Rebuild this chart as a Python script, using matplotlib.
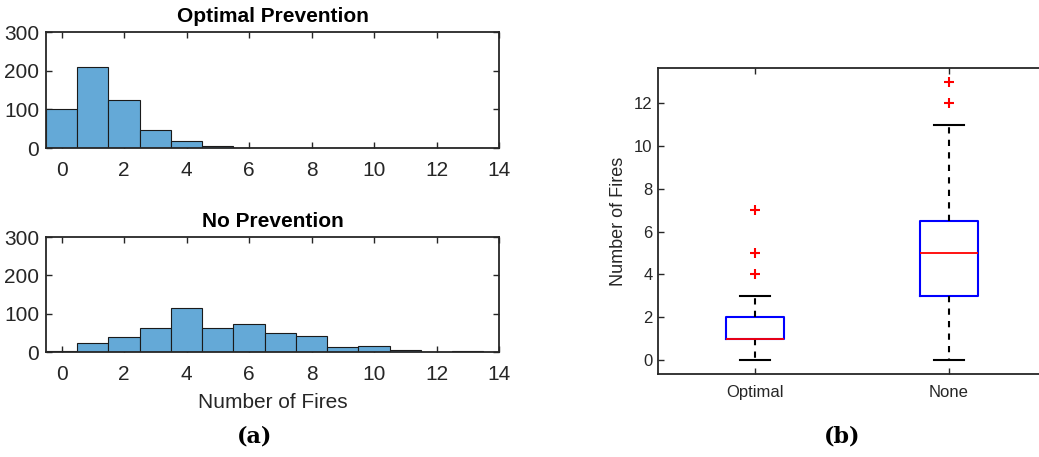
import matplotlib
matplotlib.use("Agg")
import matplotlib.pyplot as plt
import numpy as np

# ---- data ----
fires = list(range(14))
optimal_counts = [100, 210, 125, 46, 17, 4, 1, 1, 0, 0, 0, 0, 0, 0]
none_counts = [3, 24, 39, 63, 115, 63, 73, 50, 41, 13, 16, 6, 1, 3]

box_labels = ["Optimal", "None"]
box_q1 = [1, 3]
box_med = [1, 5]
box_q3 = [2, 6.5]
box_whislo = [0, 0]
box_whishi = [3, 11]
box_fliers = [[4, 5, 7], [12, 13]]

# ---- style ----
plt.rcParams['font.family'] = ['Liberation Sans', 'DejaVu Sans']
axcol = '#262626'
barcol = '#64a9d7'

W, H = 1039, 457
fig = plt.figure(figsize=(W / 100, H / 100), dpi=100)

def rect(l, t, r, b):
    return [l / W, 1 - b / H, (r - l) / W, (b - t) / H]

def style_axes(ax, fs, pad_x, pad_y):
    for s in ax.spines.values():
        s.set_color(axcol)
        s.set_linewidth(1.3)
    ax.tick_params(direction='in', top=True, right=True, colors=axcol,
                   length=4, width=1.0, labelsize=fs)
    ax.tick_params(axis='x', pad=pad_x)
    ax.tick_params(axis='y', pad=pad_y)

hist_specs = [
    ("Optimal Prevention", optimal_counts, (46, 32, 499, 148)),
    ("No Prevention", none_counts, (46, 237, 499, 352)),
]
for i, (title, counts, r) in enumerate(hist_specs):
    ax = fig.add_axes(rect(*r))
    ax.bar(fires, counts, width=1.0, color=barcol, edgecolor='#1a1a1a',
           linewidth=0.8, zorder=2)
    ax.set_xlim(-0.5, 14)
    ax.set_ylim(0, 300)
    ax.set_xticks(range(0, 15, 2))
    ax.set_yticks([0, 100, 200, 300])
    style_axes(ax, 15, 9, 5)
    ax.set_title(title, fontsize=15, fontweight='bold', pad=7, color='black')
    if i == 1:
        ax.set_xlabel("Number of Fires", fontsize=15, color=axcol, labelpad=7)

# ---- boxplot ----
bx = fig.add_axes(rect(658, 68, 1046, 374))
stats = []
for k in range(len(box_labels)):
    stats.append(dict(label=box_labels[k], q1=box_q1[k], med=box_med[k],
                      q3=box_q3[k], whislo=box_whislo[k],
                      whishi=box_whishi[k], fliers=box_fliers[k]))
bx.bxp(stats, positions=[1, 2], widths=0.3, showfliers=True,
       boxprops=dict(color='#0000ff', linewidth=1.5),
       medianprops=dict(color='#ff0000', linewidth=1.3),
       whiskerprops=dict(color='black', linewidth=1.5, linestyle=(0, (3, 3))),
       capprops=dict(color='black', linewidth=1.5),
       capwidths=0.15,
       flierprops=dict(marker='+', markeredgecolor='#ff0000',
                       markersize=7, markeredgewidth=1.5, linestyle='none'))
bx.set_xlim(0.5, 2.5)
bx.set_ylim(-0.65, 13.65)
bx.set_yticks(range(0, 13, 2))
bx.set_xticks([1, 2])
bx.set_xticklabels(box_labels)
style_axes(bx, 12, 8, 4)
bx.set_ylabel("Number of Fires", fontsize=13, color=axcol, labelpad=5)

# ---- panel labels ----
fig.text(255 / W, 1 - 437 / H, "(a)", fontsize=16, fontweight='bold',
         family='DejaVu Serif', ha='center', va='center')
fig.text(842 / W, 1 - 437 / H, "(b)", fontsize=16, fontweight='bold',
         family='DejaVu Serif', ha='center', va='center')

fig.savefig("out.png", dpi=100)
